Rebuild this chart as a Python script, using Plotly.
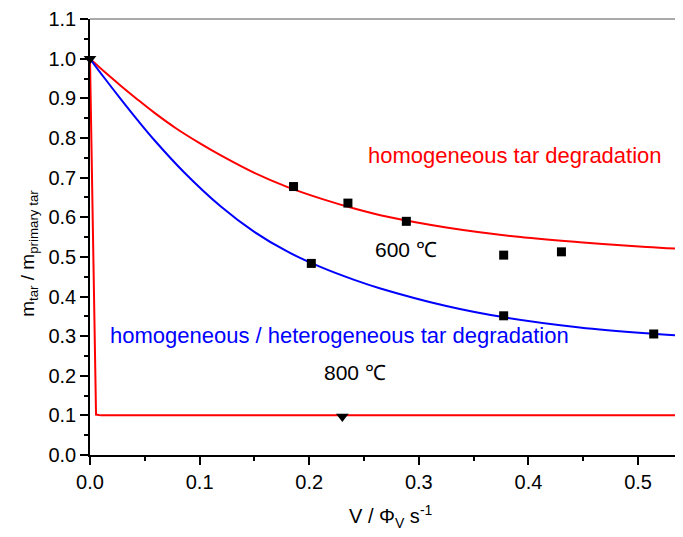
import plotly.graph_objects as go

# ---- data ----
# 600 °C model: homogeneous tar degradation (red)
x_hom600 = [0, 0.014, 0.028, 0.043, 0.0586, 0.0787, 0.1, 0.1194, 0.1499, 0.1803, 0.2107,
            0.2411, 0.2715, 0.3251, 0.3859, 0.4468, 0.5077, 0.541]
y_hom600 = [1.0, 0.965, 0.932, 0.898, 0.864, 0.824, 0.787, 0.756, 0.712, 0.676, 0.647,
            0.622, 0.601, 0.574, 0.552, 0.537, 0.525, 0.520]

# 600 °C model: homogeneous / heterogeneous tar degradation (blue)
x_het600 = [0, 0.013, 0.0281, 0.0434, 0.0586, 0.086, 0.1194, 0.1499, 0.1803, 0.2107,
            0.2411, 0.2642, 0.3251, 0.3768, 0.4468, 0.5077, 0.541]
y_het600 = [1.0, 0.952, 0.898, 0.845, 0.795, 0.713, 0.627, 0.563, 0.513, 0.474,
            0.442, 0.421, 0.376, 0.348, 0.322, 0.307, 0.301]

# 800 °C model (red)
x_hom800 = [0, 0.0055, 0.01, 0.541]
y_hom800 = [1.0, 0.102, 0.1, 0.1]

# 600 °C measurements (squares)
x_meas600 = [0.1857, 0.2019, 0.2353, 0.2886, 0.3774, 0.3774, 0.4301, 0.5143]
y_meas600 = [0.6775, 0.4835, 0.6357, 0.5897, 0.5044, 0.3513, 0.5127, 0.3054]

# 800 °C measurements (down triangles)
x_meas800 = [0, 0.2302]
y_meas800 = [1.0, 0.097]

# tick labels
x_ticks = [0.0, 0.1, 0.2, 0.3, 0.4, 0.5]
y_ticks = [0.0, 0.1, 0.2, 0.3, 0.4, 0.5, 0.6, 0.7, 0.8, 0.9, 1.0, 1.1]

FONT = "Liberation Sans, Arial, Helvetica, sans-serif"

fig = go.Figure()
fig.add_trace(go.Scatter(x=x_hom800, y=y_hom800, mode="lines",
                         line=dict(color="#ff0000", width=2), showlegend=False))
fig.add_trace(go.Scatter(x=x_hom600, y=y_hom600, mode="lines",
                         line=dict(color="#ff0000", width=2, shape="spline", smoothing=1),
                         showlegend=False))
fig.add_trace(go.Scatter(x=x_het600, y=y_het600, mode="lines",
                         line=dict(color="#0000ff", width=2, shape="spline", smoothing=1),
                         showlegend=False))
fig.add_trace(go.Scatter(x=x_meas600, y=y_meas600, mode="markers", cliponaxis=False,
                         marker=dict(symbol="square", size=9, color="black"), showlegend=False))
fig.add_trace(go.Scatter(x=x_meas800, y=y_meas800, mode="markers", cliponaxis=False,
                         marker=dict(symbol="triangle-down", size=11, color="black"),
                         showlegend=False))

axis_common = dict(
    showline=True, linecolor="black", linewidth=1.5,
    ticks="outside", ticklen=8, tickwidth=1.5, tickcolor="black",
    showgrid=False, zeroline=False, ticklabeloverflow="allow",
    tickfont=dict(family=FONT, size=20, color="black"),
    minor=dict(ticks="outside", ticklen=4, tickwidth=1.5, tickcolor="black", dtick=0.05),
)

fig.update_xaxes(range=[0, 0.541], tickmode="array", tickvals=x_ticks,
                 ticktext=[f"{v:.1f}" for v in x_ticks], **axis_common)
fig.update_yaxes(range=[0, 1.1003], tickmode="array", tickvals=y_ticks,
                 ticktext=[f"{v:.1f}" for v in y_ticks], **axis_common)

annotations = [
    dict(text="homogeneous tar degradation", x=0.3879, y=0.757, xref="x", yref="y",
         showarrow=False, font=dict(family=FONT, size=22, color="#ff0000")),
    dict(text="600 \u2103", x=0.288, y=0.519, xref="x", yref="y",
         showarrow=False, font=dict(family=FONT, size=21, color="black")),
    dict(text="homogeneous / heterogeneous tar degradation", x=0.2279, y=0.301,
         xref="x", yref="y", showarrow=False,
         font=dict(family=FONT, size=22, color="#0000ff")),
    dict(text="800 \u2103", x=0.2419, y=0.208, xref="x", yref="y",
         showarrow=False, font=dict(family=FONT, size=21, color="black")),
    dict(text="V / \u03a6<sub>V</sub> s<sup>-1</sup>", x=0.5076, y=-0.1416,
         xref="paper", yref="paper", showarrow=False, xanchor="center", yanchor="middle",
         font=dict(family=FONT, size=20, color="black")),
    dict(text="m<sub>tar</sub> / m<sub>primary tar</sub>", x=-0.103, y=0.4635,
         xref="paper", yref="paper", showarrow=False, textangle=-90,
         xanchor="center", yanchor="middle",
         font=dict(family=FONT, size=19, color="black")),
]

# page body has an 8px margin, so the figure is 8px smaller than the window
fig.update_layout(
    width=675, height=529,
    margin=dict(l=82, r=0, t=9, b=82),
    paper_bgcolor="white", plot_bgcolor="white",
    annotations=annotations,
    shapes=[dict(type="line", xref="paper", yref="paper", x0=0, x1=1, y0=1, y1=1,
                 line=dict(color="#555555", width=1))],
)

fig.write_html("out.html")
